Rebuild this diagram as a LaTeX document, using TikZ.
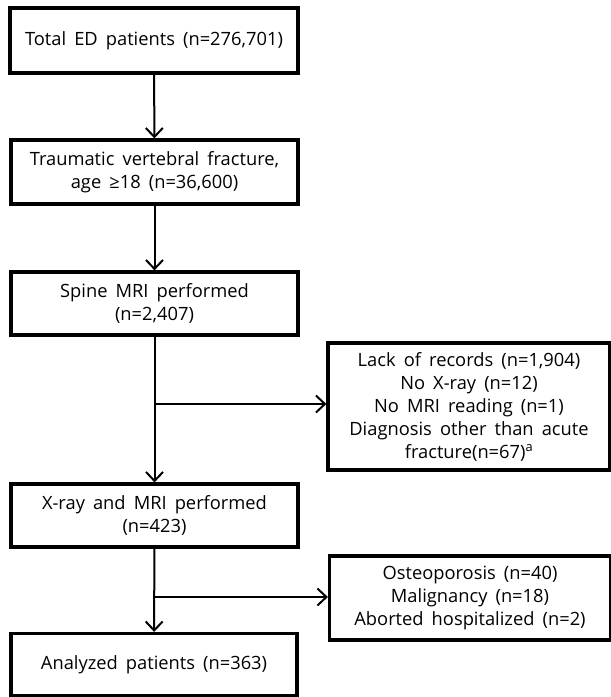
\documentclass[tikz,border=0pt]{standalone}
\usepackage{fontspec}
\setmainfont{Open Sans}[WordSpace=1.7]
\usetikzlibrary{arrows.meta}
\begin{document}
\begin{tikzpicture}[x=1pt,y=-1pt,
  box/.style={draw, line width=3.2pt, inner sep=0pt, align=center,
    font=\fontsize{18.3}{23}\selectfont},
  conn/.style={line width=2pt, -{Straight Barb[length=9pt,width=17pt,line width=2pt]}}]
\useasboundingbox (0,0) rectangle (611,697);
\node[box, minimum width=288pt, minimum height=65pt] (b1) at (154,40.5) {Total ED patients (n=276,701)};
\node[box, minimum width=287pt, minimum height=64pt] (b2) at (154.5,172) {Traumatic vertebral fracture,\\ age ≥18 (n=36,600)};
\node[box, minimum width=287pt, minimum height=63pt] (b3) at (154.5,303.5) {Spine MRI performed\\ (n=2,407)};
\node[box, minimum width=282pt, minimum height=127pt] (rA) at (469,406.5) {Lack of records (n=1,904)\\ No X-ray (n=12)\\ No MRI reading (n=1)\\ Diagnosis other than acute\\ fracture(n=67)\textsuperscript{a}};
\node[box, minimum width=287pt, minimum height=63pt] (b4) at (154.5,515.5) {X-ray and MRI performed\\ (n=423)};
\node[box, minimum width=281pt, minimum height=84pt] (rB) at (470,598) {Osteoporosis (n=40)\\ Malignancy (n=18)\\ Aborted hospitalized (n=2)};
\node[box, minimum width=286pt, minimum height=62pt] (b5) at (154,664.5) {Analyzed patients (n=363)};
\coordinate (j1) at (154,404);
\coordinate (j2) at (154,597);
\draw[conn] (b1) -- (b2);
\draw[conn] (b2) -- (b3);
\draw[conn] (b3) -- (b4);
\draw[conn] (j1) -- (j1 -| rA.west);
\draw[conn] (b4) -- (b5);
\draw[conn] (j2) -- (j2 -| rB.west);
\end{tikzpicture}
\end{document}
